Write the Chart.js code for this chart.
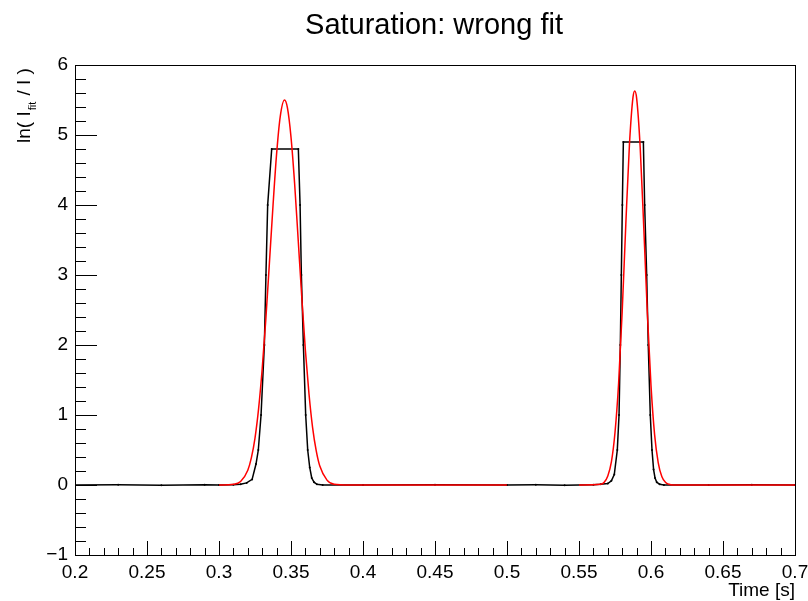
<!DOCTYPE html>
<html>
<head>
<meta charset="utf-8">
<script src="https://cdn.jsdelivr.net/npm/chart.js@4.4.0/dist/chart.umd.min.js"></script>
<style>
  html, body { margin: 0; padding: 0; background: #fff; }
  canvas { display: block; }
</style>
</head>
<body>
<canvas id="sat" width="808" height="601"></canvas>
<script>
// measured ln(I_fit/I) vs time (black graph, saturated at the top)
const dataX = [0.200, 0.230, 0.260, 0.290, 0.300, 0.310, 0.315, 0.3192, 0.323, 0.3257, 0.3273, 0.3292, 0.3315, 0.3326, 0.3338, 0.3366,
  0.3551, 0.3563, 0.3572, 0.3586, 0.3602, 0.3616, 0.3630, 0.3644, 0.366, 0.368, 0.372, 0.400, 0.450, 0.500, 0.520, 0.540,
  0.560, 0.565, 0.570, 0.5725, 0.5745, 0.5766, 0.5778, 0.5787, 0.5794, 0.5801, 0.5808,
  0.5947, 0.5956, 0.5970, 0.5981, 0.5995, 0.6007, 0.6018, 0.6028, 0.604, 0.606, 0.609, 0.640, 0.670, 0.700]
const dataY = [0, 0.003, -0.003, 0.003, 0, 0.003, 0.01, 0.03, 0.08, 0.3, 0.5, 1.0, 2.0, 3.0, 4.0, 4.8,
  4.8, 4.0, 3.0, 2.0, 1.0, 0.5, 0.25, 0.1, 0.04, 0.01, 0, 0, 0.003, 0, 0.003, -0.003,
  0.003, 0.01, 0.02, 0.06, 0.15, 0.5, 1.0, 2.0, 3.0, 4.0, 4.9,
  4.9, 4.0, 3.0, 2.0, 1.0, 0.5, 0.22, 0.1, 0.04, 0.01, 0, 0, 0.003, 0]

// fitted curve, first peak (red)
const fit1X = [0.300, 0.310, 0.315, 0.320, 0.3225, 0.325, 0.3275, 0.330, 0.3325, 0.335, 0.3375, 0.340, 0.3425, 0.3455,
  0.3475, 0.350, 0.3525, 0.355, 0.3575, 0.360, 0.3625, 0.365, 0.3675, 0.370, 0.375, 0.380, 0.390, 0.450, 0.500]
const fit1Y = [0, 0.01, 0.05, 0.21, 0.39, 0.67, 1.09, 1.66, 2.36, 3.17, 3.99, 4.73, 5.26, 5.5,
  5.39, 4.97, 4.31, 3.50, 2.68, 1.92, 1.30, 0.82, 0.49, 0.27, 0.07, 0.01, 0, 0, 0]

// fitted curve, second peak (red)
const fit2X = [0.550, 0.565, 0.5675, 0.570, 0.5725, 0.575, 0.5775, 0.580, 0.5825, 0.585, 0.5875, 0.5887,
  0.590, 0.5925, 0.595, 0.5975, 0.600, 0.6025, 0.605, 0.6075, 0.610, 0.6125, 0.615, 0.650, 0.700]
const fit2Y = [0, 0.01, 0.04, 0.13, 0.33, 0.75, 1.45, 2.48, 3.72, 4.85, 5.54, 5.63,
  5.53, 4.82, 3.67, 2.44, 1.42, 0.72, 0.32, 0.12, 0.04, 0.01, 0, 0, 0]

const xRange = [0.2, 0.7]
const yRange = [-1, 6]
const xMajor = 0.05
const yMajor = 1

const titleText = "Saturation: wrong fit"
const xTitle = "Time [s]"

const FONT = "'Liberation Sans', Arial, sans-serif"

const pts = (xs, ys) => xs.map((x, i) => ({ x: x, y: ys[i] }))

// frame, inside ticks (major + minor) and the texts ROOT puts around the pad
const rootFrame = {
  id: "rootFrame",
  afterDraw(chart) {
    const c = chart.ctx
    const a = chart.chartArea
    const xs = chart.scales.x
    const ys = chart.scales.y
    c.save()
    c.strokeStyle = "#000"
    c.lineWidth = 1
    c.strokeRect(Math.round(a.left) + 0.5, Math.round(a.top) + 0.5, Math.round(a.right - a.left), Math.round(a.bottom - a.top))

    c.beginPath()
    // x ticks: major every 0.05, minor every 0.01
    for (let i = 0; i <= 50; i++) {
      const v = xRange[0] + i * 0.01
      const px = Math.round(xs.getPixelForValue(v)) + 0.5
      const len = i % 5 === 0 ? 14 : 7
      c.moveTo(px, a.bottom)
      c.lineTo(px, a.bottom - len)
    }
    // y ticks: major every 1, minor every 0.2
    for (let i = 0; i <= 35; i++) {
      const v = yRange[0] + i * 0.2
      const py = Math.round(ys.getPixelForValue(v)) + 0.5
      const len = i % 5 === 0 ? 22 : 11
      c.moveTo(a.left, py)
      c.lineTo(a.left + len, py)
    }
    c.stroke()

    c.fillStyle = "#000"
    // title
    c.font = "29px " + FONT
    c.textAlign = "center"
    c.textBaseline = "alphabetic"
    c.fillText(titleText, 434, 34)

    // x title, right aligned
    c.font = "19px " + FONT
    c.textAlign = "right"
    c.fillText(xTitle, a.right, 596)

    // y title with subscript, rotated
    c.translate(30, 143)
    c.rotate(-Math.PI / 2)
    c.textAlign = "left"
    c.font = "19px " + FONT
    let w = 0
    c.fillText("ln( I", w, 0)
    w += c.measureText("ln( I").width + 1
    c.font = "11px " + FONT
    c.fillText("fit", w, 6)
    w += c.measureText("fit").width + 1
    c.font = "19px " + FONT
    c.fillText(" / I )", w, 0)
    c.restore()
  }
}

const ctx = document.getElementById("sat")

new Chart(ctx, {
  type: "line",
  data: {
    datasets: [
      {
        label: "fit 1",
        data: pts(fit1X, fit1Y),
        borderColor: "#ff0000",
        borderWidth: 1.5,
        pointRadius: 0,
        cubicInterpolationMode: "monotone",
        fill: false,
      },
      {
        label: "fit 2",
        data: pts(fit2X, fit2Y),
        borderColor: "#ff0000",
        borderWidth: 1.5,
        pointRadius: 0,
        cubicInterpolationMode: "monotone",
        fill: false,
      },
      {
        label: "data",
        data: pts(dataX, dataY),
        borderColor: "#000000",
        backgroundColor: "#000000",
        borderWidth: 1.5,
        pointRadius: 1,
        pointBorderWidth: 0,
        tension: 0,
        fill: false,
      },
    ],
  },
  options: {
    responsive: false,
    animation: false,
    layout: {
      padding: { left: 0, top: 65, right: 13, bottom: 0 }
    },
    plugins: {
      legend: { display: false },
      tooltip: { enabled: false },
      title: { display: false },
    },
    scales: {
      x: {
        type: "linear",
        min: xRange[0],
        max: xRange[1],
        grid: { display: false, drawTicks: false },
        border: { display: false },
        afterFit: (scale) => {
          scale.height = 46
          scale.paddingLeft = 0
          scale.paddingRight = 0
        },
        afterBuildTicks: (scale) => {
          const t = []
          for (let i = 0; i <= 10; i++) t.push({ value: +(xRange[0] + i * xMajor).toFixed(2) })
          scale.ticks = t
        },
        ticks: {
          color: "#000",
          padding: 6,
          maxRotation: 0,
          autoSkip: false,
          font: { family: FONT, size: 19 },
          callback: (v) => String(+v.toFixed(2)),
        },
      },
      y: {
        type: "linear",
        min: yRange[0],
        max: yRange[1],
        grid: { display: false, drawTicks: false },
        border: { display: false },
        afterFit: (scale) => {
          scale.width = 75
          scale.paddingTop = 0
          scale.paddingBottom = 0
        },
        ticks: {
          color: "#000",
          padding: 7,
          stepSize: yMajor,
          font: { family: FONT, size: 19 },
          callback: (v) => String(v).replace("-", "\u2212"),
        },
      },
    },
  },
  plugins: [rootFrame],
})
</script>
</body>
</html>
